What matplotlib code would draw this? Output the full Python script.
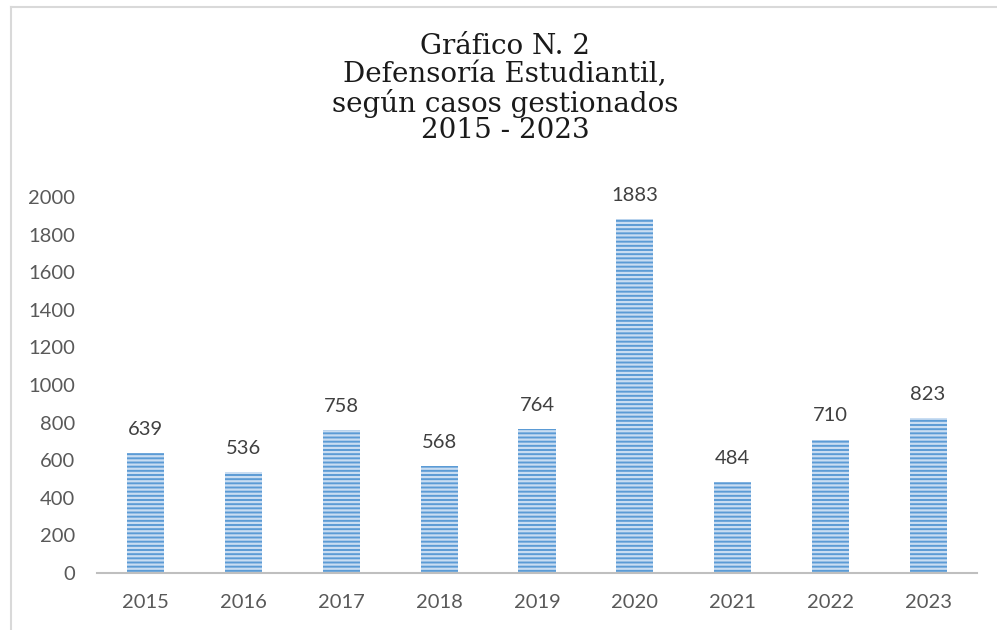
import matplotlib.pyplot as plt
from matplotlib.lines import Line2D

years = ['2015', '2016', '2017', '2018', '2019', '2020', '2021', '2022', '2023']
casos = [639, 536, 758, 568, 764, 1883, 484, 710, 823]
yticks = [0, 200, 400, 600, 800, 1000, 1200, 1400, 1600, 1800, 2000]

title_lines = ['Gráfico N. 2', 'Defensoría Estudiantil,',
               'según casos gestionados', '2015 - 2023']

plt.rcParams['hatch.linewidth'] = 1.6

fig = plt.figure(figsize=(9.97, 6.3), dpi=100)
fig.patch.set_facecolor('white')

# frame of the chart area (only top and left are visible in the crop)
fig.add_artist(Line2D([10.5 / 997, 10.5 / 997], [0, 1 - 6.5 / 630],
                      transform=fig.transFigure, color='#d9d9d9', lw=1.5))
fig.add_artist(Line2D([10.5 / 997, 1], [1 - 6.5 / 630, 1 - 6.5 / 630],
                      transform=fig.transFigure, color='#d9d9d9', lw=1.5))

ax = fig.add_axes([97 / 997, (630 - 573) / 630, 880 / 997, 376 / 630])
x = list(range(len(years)))
# blue base + light horizontal stripes on top
ax.bar(x, casos, width=0.38, color='#5b9bd5', linewidth=0, zorder=2)
ax.bar(x, casos, width=0.38, facecolor='none', edgecolor='#c9ddf2',
       linewidth=0, hatch='----', zorder=2.1)

for xi, v in zip(x, casos):
    ax.annotate(str(v), (xi, v), xytext=(0, 11), textcoords='offset points',
                ha='center', va='bottom', fontsize=14.5, color='#404040',
                family='Lato')

ax.set_xlim(-0.5, len(years) - 0.5)
ax.set_ylim(0, 2000)
ax.set_xticks(x)
ax.set_xticklabels(years)
ax.set_yticks(yticks)
ax.tick_params(axis='both', length=0, labelsize=14.5, labelcolor='#595959')
ax.tick_params(axis='x', pad=15)
ax.tick_params(axis='y', pad=16)
for lbl in ax.get_xticklabels() + ax.get_yticklabels():
    lbl.set_family('Lato')

for s in ['top', 'right', 'left']:
    ax.spines[s].set_visible(False)
ax.spines['bottom'].set_color('#bfbfbf')
ax.spines['bottom'].set_linewidth(1.5)
ax.spines['bottom'].set_zorder(3)

ys = [47, 75, 103, 131]
for line, yy in zip(title_lines, ys):
    fig.text(505 / 997, 1 - yy / 630, line, ha='center', va='center',
             fontsize=20, family='DejaVu Serif', color='#1a1a1a')

fig.savefig('out.png', dpi=100)
